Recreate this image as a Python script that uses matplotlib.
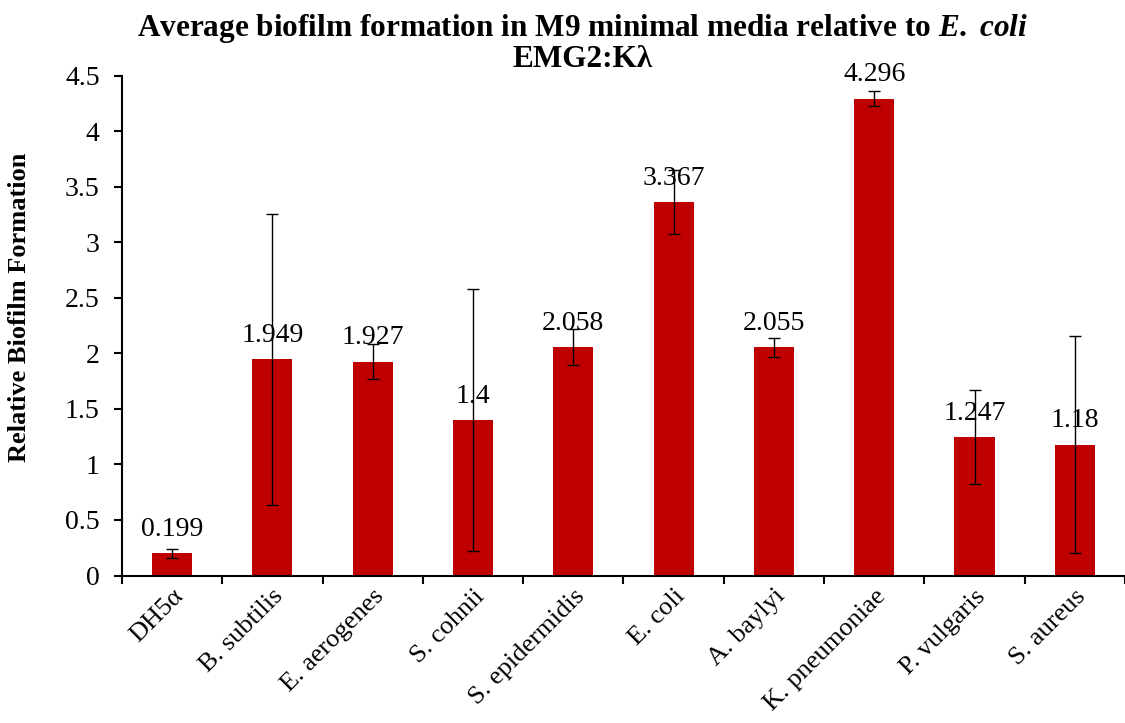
import matplotlib.pyplot as plt
import numpy as np

# ── Data ───────────────────────────────────────────────────────────────────────
strains = ["DH5α", "B. subtilis", "E. aerogenes", "S. cohnii", "S. epidermidis",
           "E. coli", "A. baylyi", "K. pneumoniae", "P. vulgaris", "S. aureus"]
biofilm = [0.199, 1.949, 1.927, 1.4, 2.058, 3.367, 2.055, 4.296, 1.247, 1.18]
errors = [0.04, 1.31, 0.16, 1.18, 0.16, 0.29, 0.083, 0.068, 0.425, 0.98]
labels = ["0.199", "1.949", "1.927", "1.4", "2.058", "3.367", "2.055", "4.296", "1.247", "1.18"]
yticks = [0, 0.5, 1, 1.5, 2, 2.5, 3, 3.5, 4, 4.5]

plt.rcParams["font.family"] = ["Liberation Serif", "DejaVu Serif"]
plt.rcParams["mathtext.fontset"] = "custom"
plt.rcParams["mathtext.it"] = "Liberation Serif:italic:bold"
plt.rcParams["mathtext.rm"] = "Liberation Serif:bold"

fig = plt.figure(figsize=(11.25, 7.23), dpi=100)
ax = fig.add_axes([0.1084, 0.204, 1 - 0.1084, 0.691])

x = np.arange(len(strains))
ax.bar(x, biofilm, width=0.4, color="#C00000", zorder=2)
ax.errorbar(x, biofilm, yerr=errors, fmt="none", ecolor="black",
            elinewidth=1.0, capsize=4.5, capthick=1.0, zorder=3)

for xi, v, lab in zip(x, biofilm, labels):
    ax.annotate(lab, (xi, v), xytext=(0, 8), textcoords="offset points",
                ha="center", va="bottom", fontsize=20, zorder=1)

# ── Axes styling ───────────────────────────────────────────────────────────────
ax.set_xlim(-0.5, 9.44)
ax.set_ylim(0, 4.5)
ax.set_yticks(yticks)
ax.set_yticklabels([f"{t:g}" for t in yticks], fontsize=20)
ax.set_xticks(x)
ax.set_xticklabels(strains, fontsize=19, rotation=45, ha="right",
                   rotation_mode="anchor")
ax.set_xticks(np.arange(len(strains) + 1) - 0.5, minor=True)
ax.tick_params(axis="x", which="major", length=0, pad=7)
ax.tick_params(axis="x", which="minor", length=6, width=1.5, direction="out")
ax.tick_params(axis="y", length=6, width=1.5, direction="out", pad=10)

for s in ["top", "right"]:
    ax.spines[s].set_visible(False)
for s in ["left", "bottom"]:
    ax.spines[s].set_linewidth(1.5)

# ── Titles ─────────────────────────────────────────────────────────────────────
fig.text(583 / 1125, 1 - 36 / 723,
         "Average biofilm formation in M9 minimal media relative to $\\mathit{E.}$ $\\mathit{coli}$",
         ha="center", va="baseline", fontsize=22.5, fontweight="bold")
fig.text(583 / 1125, 1 - 67 / 723, "EMG2:Kλ",
         ha="center", va="baseline", fontsize=22.5, fontweight="bold")
fig.text(20 / 1125, 1 - 307 / 723, "Relative Biofilm Formation", rotation=90,
         ha="center", va="center", fontsize=19, fontweight="bold")

plt.savefig("out.png", dpi=100)
